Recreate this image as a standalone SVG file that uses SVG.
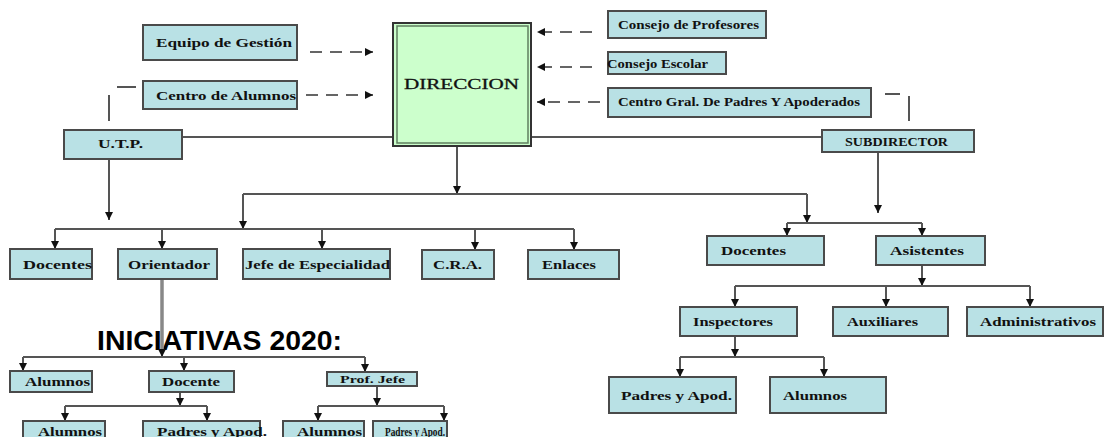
<svg xmlns="http://www.w3.org/2000/svg" width="1107" height="437" viewBox="0 0 1107 437">
<style>
.box{fill:#b9e1e5;stroke:#4a4a4a;stroke-width:2}
.t{font-family:"Liberation Serif",serif;font-weight:bold;font-size:12.5px;fill:#111}
.c{stroke:#555;stroke-width:2;fill:none}
.d{stroke:#333;stroke-width:1.6;fill:none;stroke-dasharray:12 8}
.a{marker-end:url(#ah)}
</style>
<defs>
<marker id="ah" markerUnits="userSpaceOnUse" markerWidth="9" markerHeight="9" refX="8" refY="4" orient="auto" viewBox="0 0 9 8">
<path d="M0,0 L8,4 L0,8 z" fill="#111"/>
</marker>
</defs>
<rect width="1107" height="437" fill="#fff"/>

<text id="iniciativas" x="97" y="350" textLength="245" lengthAdjust="spacingAndGlyphs" style="font-family:'Liberation Sans',Arial,sans-serif;font-weight:bold;font-size:28px;fill:#000">INICIATIVAS 2020:</text>

<g id="connectors">
<path class="d a" d="M310,52 H373"/>
<path class="d a" d="M306,95 H373"/>
<path class="d a" d="M592,32 H537"/>
<path class="d a" d="M592,67 H537"/>
<path class="d a" d="M600,102 H537"/>
<path class="c" d="M117,87 H136 M109,95 V121"/>
<path class="c" d="M885,94 H900 M909,96 V121"/>
<path class="c" d="M182,137 H393 M531,137 H822"/>
<path class="c a" d="M457,146 V194"/>
<path class="c" d="M243,194 H807"/>
<path class="c a" d="M243,194 V229"/>
<path class="c a" d="M807,194 V223"/>
<path class="c a" d="M109,159 V220"/>
<path class="c" d="M55,229 H574"/>
<path class="c a" d="M55,229 V249"/>
<path class="c a" d="M162,229 V249"/>
<path class="c a" d="M322,229 V249"/>
<path class="c a" d="M475,229 V250"/>
<path class="c a" d="M574,229 V250"/>
<path class="c a" d="M878,152 V213"/>
<path class="c" d="M787,223 H922"/>
<path class="c a" d="M787,223 V236"/>
<path class="c a" d="M922,223 V236"/>
<path class="c a" d="M922,265 V286"/>
<path class="c" d="M735,286 H1030"/>
<path class="c a" d="M735,286 V307"/>
<path class="c a" d="M886,286 V307"/>
<path class="c a" d="M1030,286 V307"/>
<path class="c a" d="M735,336 V357"/>
<path class="c" d="M680,357 H824"/>
<path class="c a" d="M680,357 V377"/>
<path class="c a" d="M824,357 V377"/>
<path d="M162,279 V351" stroke="#888" stroke-width="3.5" fill="none"/>
<path class="c a" d="M162,349 V357"/>
<path class="c" d="M23,357 H365"/>
<path class="c a" d="M23,357 V371"/>
<path class="c a" d="M184,357 V371"/>
<path class="c a" d="M365,357 V372"/>
<path class="c a" d="M180,392 V406"/>
<path class="c" d="M65,406 H207"/>
<path class="c a" d="M65,406 V421"/>
<path class="c a" d="M207,406 V421"/>
<path class="c a" d="M377,386 V406"/>
<path class="c" d="M318,406 H444"/>
<path class="c a" d="M318,406 V421"/>
<path class="c a" d="M444,406 V421"/>
</g>

<g id="equipo"><rect class="box" x="143" y="25" width="154" height="35"/><text class="t" x="156" y="47" textLength="136" lengthAdjust="spacingAndGlyphs">Equipo de Gestión</text></g>
<g id="centro-alumnos"><rect class="box" x="143" y="81" width="154" height="28"/><text class="t" x="156" y="100" textLength="140" lengthAdjust="spacingAndGlyphs">Centro de Alumnos</text></g>
<g id="direccion">
<rect x="393" y="23" width="138" height="123" fill="#ccffcc" stroke="#333" stroke-width="2"/>
<rect x="397" y="26" width="131" height="117" fill="none" stroke="#5f7f5f" stroke-width="1.5"/>
<text x="404" y="89" textLength="115" lengthAdjust="spacingAndGlyphs" style="font-family:'Liberation Serif',serif;font-size:15px;fill:#111;stroke:#111;stroke-width:0.3">DIRECCION</text>
</g>
<g id="consejo-profesores"><rect class="box" x="608" y="11" width="158" height="27"/><text class="t" x="618" y="29" textLength="141" lengthAdjust="spacingAndGlyphs">Consejo de Profesores</text></g>
<g id="consejo-escolar"><rect class="box" x="608" y="52" width="118" height="22"/><text class="t" x="607" y="68" textLength="101" lengthAdjust="spacingAndGlyphs">Consejo Escolar</text></g>
<g id="centro-padres"><rect class="box" x="608" y="88" width="263" height="29"/><text class="t" x="618" y="106" textLength="242" lengthAdjust="spacingAndGlyphs">Centro Gral. De Padres Y Apoderados</text></g>
<g id="utp"><rect class="box" x="64" y="130" width="118" height="29"/><text class="t" x="98" y="148" textLength="45" lengthAdjust="spacingAndGlyphs">U.T.P.</text></g>
<g id="subdirector"><rect class="box" x="822" y="130" width="152" height="22"/><text class="t" x="845" y="146" textLength="103" lengthAdjust="spacingAndGlyphs">SUBDIRECTOR</text></g>

<g id="docentes-l"><rect class="box" x="10" y="249" width="82" height="30"/><text class="t" x="23" y="269" textLength="69" lengthAdjust="spacingAndGlyphs">Docentes</text></g>
<g id="orientador"><rect class="box" x="118" y="249" width="99" height="30"/><text class="t" x="128" y="269" textLength="82" lengthAdjust="spacingAndGlyphs">Orientador</text></g>
<g id="jefe-especialidad"><rect class="box" x="243" y="249" width="147" height="30"/><text class="t" x="245" y="269" textLength="145" lengthAdjust="spacingAndGlyphs">Jefe de Especialidad</text></g>
<g id="cra"><rect class="box" x="422" y="250" width="72" height="29"/><text class="t" x="433" y="269" textLength="49" lengthAdjust="spacingAndGlyphs">C.R.A.</text></g>
<g id="enlaces"><rect class="box" x="528" y="250" width="91" height="29"/><text class="t" x="542" y="269" textLength="54" lengthAdjust="spacingAndGlyphs">Enlaces</text></g>

<g id="docentes-r"><rect class="box" x="707" y="236" width="117" height="29"/><text class="t" x="721" y="255" textLength="65" lengthAdjust="spacingAndGlyphs">Docentes</text></g>
<g id="asistentes"><rect class="box" x="876" y="236" width="109" height="29"/><text class="t" x="890" y="255" textLength="74" lengthAdjust="spacingAndGlyphs">Asistentes</text></g>
<g id="inspectores"><rect class="box" x="680" y="307" width="117" height="29"/><text class="t" x="693" y="326" textLength="80" lengthAdjust="spacingAndGlyphs">Inspectores</text></g>
<g id="auxiliares"><rect class="box" x="833" y="307" width="115" height="29"/><text class="t" x="847" y="326" textLength="71" lengthAdjust="spacingAndGlyphs">Auxiliares</text></g>
<g id="administrativos"><rect class="box" x="967" y="307" width="136" height="29"/><text class="t" x="980" y="326" textLength="116" lengthAdjust="spacingAndGlyphs">Administrativos</text></g>
<g id="padres-r"><rect class="box" x="609" y="377" width="127" height="36"/><text class="t" x="621" y="400" textLength="111" lengthAdjust="spacingAndGlyphs">Padres y Apod.</text></g>
<g id="alumnos-r"><rect class="box" x="770" y="377" width="116" height="36"/><text class="t" x="783" y="400" textLength="64" lengthAdjust="spacingAndGlyphs">Alumnos</text></g>

<g id="alumnos-1"><rect class="box" x="10" y="371" width="82" height="21"/><text class="t" x="25" y="386" textLength="65" lengthAdjust="spacingAndGlyphs">Alumnos</text></g>
<g id="docente"><rect class="box" x="149" y="371" width="85" height="21"/><text class="t" x="162" y="386" textLength="58" lengthAdjust="spacingAndGlyphs">Docente</text></g>
<g id="prof-jefe"><rect class="box" x="327" y="372" width="90" height="14"/><text class="t" x="340" y="383" textLength="65" lengthAdjust="spacingAndGlyphs" style="font-size:11px">Prof. Jefe</text></g>
<g id="alumnos-2"><rect class="box" x="23" y="421" width="82" height="24"/><text class="t" x="38" y="436" textLength="64" lengthAdjust="spacingAndGlyphs">Alumnos</text></g>
<g id="padres-2"><rect class="box" x="143" y="421" width="117" height="24"/><text class="t" x="157" y="436" textLength="110" lengthAdjust="spacingAndGlyphs">Padres y Apod.</text></g>
<g id="alumnos-3"><rect class="box" x="283" y="421" width="81" height="24"/><text class="t" x="297" y="436" textLength="65" lengthAdjust="spacingAndGlyphs">Alumnos</text></g>
<g id="padres-3"><rect class="box" x="373" y="421" width="74" height="24"/><text class="t" x="385" y="436" textLength="60" lengthAdjust="spacingAndGlyphs">Padres y Apod.</text></g>
</svg>
